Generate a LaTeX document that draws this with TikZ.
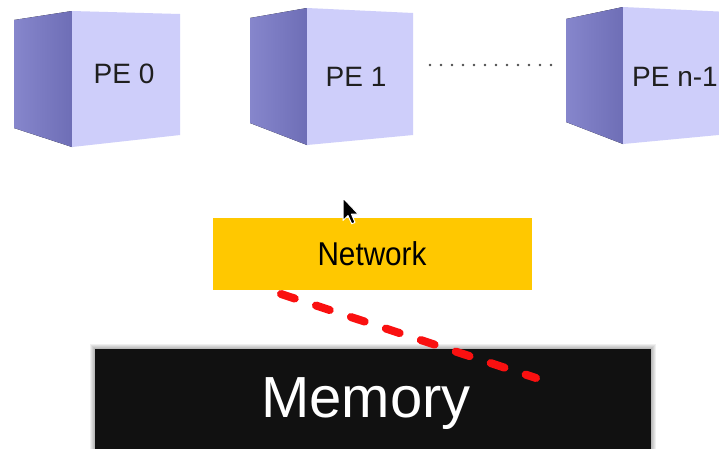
\documentclass[tikz,border=0pt]{standalone}
\usepackage{fontspec}
\setmainfont{Liberation Sans}
\definecolor{pefront}{RGB}{206,206,250}
\definecolor{peleftA}{RGB}{134,134,204}
\definecolor{peleftB}{RGB}{110,110,182}
\definecolor{netfill}{RGB}{255,200,0}
\definecolor{memfill}{RGB}{17,17,17}
\definecolor{dashred}{RGB}{250,16,16}
\tikzset{
  frontface/.style={fill=pefront},
  leftface/.style={left color=peleftA, right color=peleftB},
  pelabel/.style={font=\fontsize{28}{30}\selectfont, text=black!88, inner sep=0pt, anchor=base},
  netbox/.style={fill=netfill, minimum width=319pt, minimum height=72pt, inner sep=0pt,
                 font=\fontsize{33}{36}\selectfont, text=black},
  memlabel/.style={font=\fontsize{58}{60}\selectfont, text=white, inner sep=0pt, anchor=base},
  dotline/.style={black!70, line width=2.8pt, line cap=round, dash pattern=on 0pt off 11pt},
  redline/.style={dashred, line width=8pt, line cap=round, dash pattern=on 14.5pt off 22.3pt},
  cursorshape/.style={fill=black, draw=white, line width=1pt, line join=round}
}
\begin{document}
\begin{tikzpicture}[x=1pt, y=-1pt]
  \useasboundingbox (0,0) rectangle (719,448);
  \clip (0,0) rectangle (719,448);
  \fill[white] (0,0) rectangle (719,448);

  % PE 0
  \fill[leftface]  (14,20) -- (72,11) -- (72,147) -- (14,128) -- cycle;
  \fill[frontface] (72,11) -- (180,14) -- (180,135) -- (72,147) -- cycle;
  \node[pelabel] (pe0) at (124,83) {PE 0};

  % PE 1
  \fill[leftface]  (250,18) -- (307,8) -- (307,145) -- (250,123) -- cycle;
  \fill[frontface] (307,8) -- (413,13) -- (413,135) -- (307,145) -- cycle;
  \node[pelabel] (pe1) at (356,86) {PE 1};

  % PE n-1
  \fill[leftface]  (566,19) -- (623,7) -- (623,144) -- (566,122) -- cycle;
  \fill[frontface] (623,7) -- (729,12) -- (729,134) -- (623,144) -- cycle;
  \node[pelabel, anchor=base west] (pen) at (632,86) {PE n-1};

  % dotted ellipsis
  \coordinate (d1) at (430,65);
  \coordinate (d2) at (552,65);
  \draw[dotline] (d1) -- (d2);

  % Network
  \node[netbox] (net) at (372,254) {\scalebox{0.9}[1]{Network}};

  % Memory (soft edge)
  \foreach \i in {1,...,6} {
    \fill[black, opacity=0.06] (96-1*\i,350-1*\i) rectangle (650+1*\i,470);
  }
  \fill[memfill] (95,349) rectangle (651,470);
  \node[memlabel] (mem) at (366,417) {Memory};

  % red dashed stroke
  \coordinate (rs) at (281,294);
  \coordinate (re) at (536,378);
  \draw[redline] (rs) -- (re);

  % mouse pointer
  \filldraw[cursorshape] (343,198) -- (343,220.4) -- (348,215.6) -- (351.7,223.8)
     -- (355,222.4) -- (351.5,214.2) -- (358.4,214.2) -- cycle;
\end{tikzpicture}
\end{document}
